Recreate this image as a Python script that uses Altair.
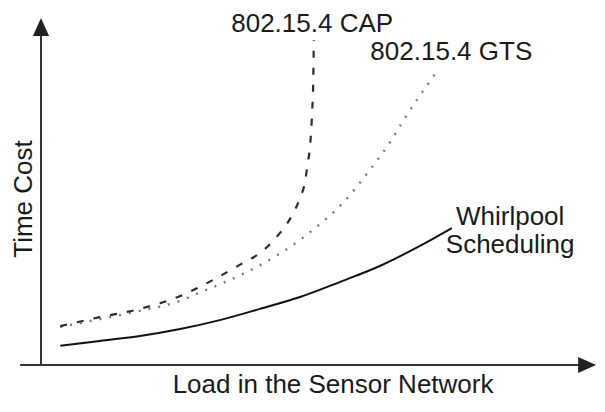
import altair as alt
import pandas as pd

# ---- data (conceptual units: load 0..10, time cost 0..10) ----
cap_load = [0.35, 1.07, 1.80, 2.53, 3.13, 3.67, 3.98, 4.22, 4.40, 4.58, 4.71, 4.80, 4.85, 4.89, 4.93, 4.95, 4.96]
cap_cost = [1.18, 1.45, 1.70, 2.09, 2.58, 3.09, 3.39, 3.76, 4.12, 4.58, 5.06, 5.55, 6.12, 6.61, 7.67, 8.64, 9.85]

gts_load = [0.35, 1.07, 1.80, 2.47, 2.95, 3.44, 4.02, 4.53, 5.07, 5.49, 5.95, 6.35, 6.56, 6.87, 7.18]
gts_cost = [1.15, 1.39, 1.64, 1.91, 2.24, 2.58, 3.06, 3.58, 4.27, 4.91, 5.85, 6.76, 7.33, 8.12, 8.85]

wp_load = [0.35, 1.07, 1.80, 2.53, 3.25, 3.98, 4.71, 5.44, 6.16, 6.89, 7.47]
wp_cost = [0.58, 0.73, 0.88, 1.09, 1.36, 1.70, 2.06, 2.52, 3.00, 3.61, 4.15]

label_text = ["802.15.4 CAP", "802.15.4 GTS", "Whirlpool", "Scheduling"]
label_load = [4.93, 7.46, 8.53, 8.53]
label_cost = [10.09, 9.24, 4.24, 3.39]

x_title = ["Load in the Sensor Network"]
y_title = ["Time Cost"]

# axis geometry in data units
axis_x1 = [-0.38, 0.0]
axis_x2 = [9.85, 0.0]
axis_y1 = [0.0, 0.0]
axis_y2 = [0.0, 10.15]
arrow_x = [0.0, 9.93]
arrow_y = [10.24, 0.0]
arrow_shape = ["M0,-1L-0.9,1L0.9,1Z", "M1,0L-1,-0.9L-1,0.9Z"]

FONT = "Liberation Sans"
TXT = "#1a1a1a"

XS = alt.Scale(domain=[0, 10], range=[41, 591], nice=False, zero=False)
YS = alt.Scale(domain=[0, 10], range=[365, 35], nice=False, zero=False)


def curve(load, cost, color, width, dash=None):
    df = pd.DataFrame({"load": load, "cost": cost})
    kw = dict(interpolate="monotone", color=color, strokeWidth=width)
    if dash is not None:
        kw["strokeDash"] = dash
    return alt.Chart(df).mark_line(**kw).encode(
        x=alt.X("load:Q", scale=XS, axis=None),
        y=alt.Y("cost:Q", scale=YS, axis=None),
    )


axes = alt.Chart(pd.DataFrame({"x1": axis_x1, "x2": axis_x2, "y1": axis_y1, "y2": axis_y2})).mark_rule(
    color="#333333", strokeWidth=2
).encode(
    x=alt.X("x1:Q", scale=XS, axis=None), x2="x2:Q",
    y=alt.Y("y1:Q", scale=YS, axis=None), y2="y2:Q",
)

arrows = alt.Chart(pd.DataFrame({"x": arrow_x, "y": arrow_y, "s": arrow_shape})).mark_point(
    filled=True, size=324, color="#222222", opacity=1
).encode(
    x=alt.X("x:Q", scale=XS, axis=None),
    y=alt.Y("y:Q", scale=YS, axis=None),
    shape=alt.Shape("s:N", scale=None),
)

cap = curve(cap_load, cap_cost, "#2b2b2b", 2.2, [7, 10])
gts = curve(gts_load, gts_cost, "#7a7a7a", 2.4, [2, 8])
wp = curve(wp_load, wp_cost, "#111111", 2)

labels = alt.Chart(pd.DataFrame({"t": label_text, "x": label_load, "y": label_cost})).mark_text(
    font=FONT, fontSize=26, color=TXT, align="center", baseline="alphabetic"
).encode(
    x=alt.X("x:Q", scale=XS, axis=None),
    y=alt.Y("y:Q", scale=YS, axis=None),
    text="t:N",
)

xt = alt.Chart(pd.DataFrame({"t": x_title, "x": [5.31], "y": [-0.85]})).mark_text(
    font=FONT, fontSize=26, color=TXT, align="center", baseline="alphabetic"
).encode(
    x=alt.X("x:Q", scale=XS, axis=None),
    y=alt.Y("y:Q", scale=YS, axis=None),
    text="t:N",
)

yt = alt.Chart(pd.DataFrame({"t": y_title, "x": [-0.17], "y": [5.03]})).mark_text(
    font=FONT, fontSize=26, color=TXT, align="center", baseline="alphabetic", angle=270
).encode(
    x=alt.X("x:Q", scale=XS, axis=None),
    y=alt.Y("y:Q", scale=YS, axis=None),
    text="t:N",
)

chart = alt.layer(axes, arrows, wp, gts, cap, labels, xt, yt).properties(
    width=597,
    height=399,
    autosize=alt.AutoSizeParams(type="none"),
    padding={"left": -8, "top": -8, "right": 0, "bottom": 0},
    background="white",
).configure_view(stroke=None)

chart.save("out.html", embed_options={"renderer": "svg", "actions": False})
